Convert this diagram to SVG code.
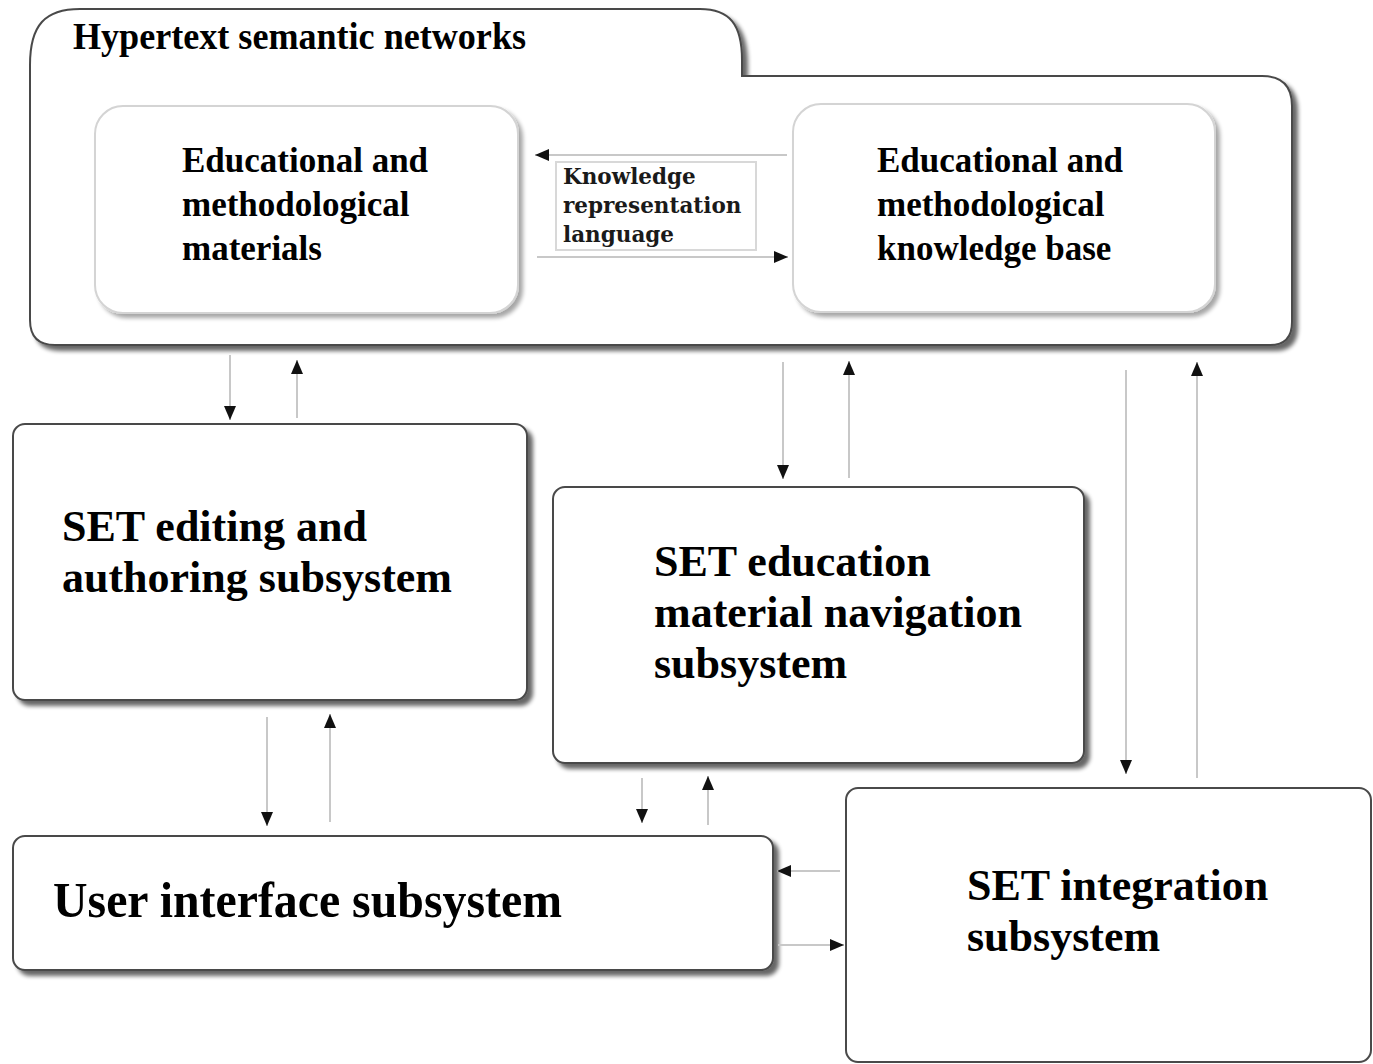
<svg xmlns="http://www.w3.org/2000/svg" width="1373" height="1064" viewBox="0 0 1373 1064">
<style>
.t{font-family:"Liberation Serif","Times New Roman",serif;font-weight:bold;fill:#000}
.m{font-size:35px}
.b{font-size:44px}
.k{font-family:"DejaVu Serif",serif;font-weight:bold;font-size:21.5px;fill:#1a1a1a}
.box{fill:#fff;stroke:#4a4a4a;stroke-width:2}
.inner{fill:#fff;stroke:#d4d4d4;stroke-width:2}
.c{stroke:#c8c8c8;stroke-width:2;fill:none;marker-end:url(#ah)}
</style>
<defs>
<filter id="sh" x="-5%" y="-5%" width="115%" height="120%">
<feGaussianBlur in="SourceAlpha" stdDeviation="2"/>
<feOffset dx="5" dy="5" result="o"/>
<feComponentTransfer><feFuncA type="linear" slope="0.6"/></feComponentTransfer>
<feMerge><feMergeNode/><feMergeNode in="SourceGraphic"/></feMerge>
</filter>
<filter id="sh2" x="-5%" y="-5%" width="115%" height="120%">
<feGaussianBlur in="SourceAlpha" stdDeviation="2"/>
<feOffset dx="4" dy="4" result="o"/>
<feComponentTransfer><feFuncA type="linear" slope="0.35"/></feComponentTransfer>
<feMerge><feMergeNode/><feMergeNode in="SourceGraphic"/></feMerge>
</filter>
<marker id="ah" viewBox="0 0 14 12" refX="14" refY="6" markerWidth="14" markerHeight="12" markerUnits="userSpaceOnUse" orient="auto">
<path d="M0,0 L14,6 L0,12 Z" fill="#111"/>
</marker>
</defs>
<rect width="1373" height="1064" fill="#fff"/>

<g id="hypertext-semantic-networks">
<path class="box" filter="url(#sh)" d="M30,65 C30,25 45,9 80,9 L700,9 C730,9 742,25 742,60 L742,76 L1262,76 Q1292,76 1292,106 L1292,322 Q1292,345 1270,345 L55,345 Q30,345 30,320 Z"/>
<text class="t" x="73" y="49" font-size="37" textLength="453" lengthAdjust="spacingAndGlyphs">Hypertext semantic networks</text>
</g>

<g id="materials">
<rect class="inner" filter="url(#sh2)" x="95" y="106" width="423" height="207" rx="28"/>
<text class="t m" x="182" y="172">Educational and</text>
<text class="t m" x="182" y="216">methodological</text>
<text class="t m" x="182" y="260">materials</text>
</g>

<g id="knowledge-base">
<rect class="inner" filter="url(#sh2)" x="793" y="104" width="422" height="208" rx="28"/>
<text class="t m" x="877" y="172">Educational and</text>
<text class="t m" x="877" y="216">methodological</text>
<text class="t m" x="877" y="260">knowledge base</text>
</g>

<g id="krl-label">
<rect x="556" y="162" width="200" height="88" fill="#fff" stroke="#d8d8d8" stroke-width="2"/>
<text class="k" x="563" y="184">Knowledge</text>
<text class="k" x="563" y="213">representation</text>
<text class="k" x="563" y="242">language</text>
</g>

<g id="editing">
<rect class="box" filter="url(#sh)" x="13" y="424" width="514" height="276" rx="12"/>
<text class="t b" x="62" y="541">SET editing and</text>
<text class="t b" x="62" y="592">authoring subsystem</text>
</g>

<g id="navigation">
<rect class="box" filter="url(#sh)" x="553" y="487" width="531" height="276" rx="12"/>
<text class="t b" x="654" y="576">SET education</text>
<text class="t b" x="654" y="627">material navigation</text>
<text class="t b" x="654" y="678">subsystem</text>
</g>

<g id="user-interface">
<rect class="box" filter="url(#sh)" x="13" y="836" width="760" height="134" rx="12"/>
<text class="t" x="53" y="917" font-size="50" textLength="509" lengthAdjust="spacingAndGlyphs">User interface subsystem</text>
</g>

<g id="integration">
<rect class="box" x="846" y="788" width="525" height="274" rx="12"/>
<text class="t b" x="967" y="900">SET integration</text>
<text class="t b" x="967" y="951">subsystem</text>
</g>

<g id="connectors">
<line class="c" x1="787" y1="155" x2="535" y2="155"/>
<line class="c" x1="537" y1="257" x2="788" y2="257"/>
<line class="c" x1="230" y1="355" x2="230" y2="420"/>
<line class="c" x1="297" y1="418" x2="297" y2="360"/>
<line class="c" x1="783" y1="362" x2="783" y2="479"/>
<line class="c" x1="849" y1="478" x2="849" y2="361"/>
<line class="c" x1="1126" y1="370" x2="1126" y2="774"/>
<line class="c" x1="1197" y1="778" x2="1197" y2="362"/>
<line class="c" x1="267" y1="717" x2="267" y2="826"/>
<line class="c" x1="330" y1="822" x2="330" y2="714"/>
<line class="c" x1="642" y1="778" x2="642" y2="823"/>
<line class="c" x1="708" y1="825" x2="708" y2="776"/>
<line class="c" x1="840" y1="871" x2="777" y2="871"/>
<line class="c" x1="778" y1="945" x2="844" y2="945"/>
</g>
</svg>
